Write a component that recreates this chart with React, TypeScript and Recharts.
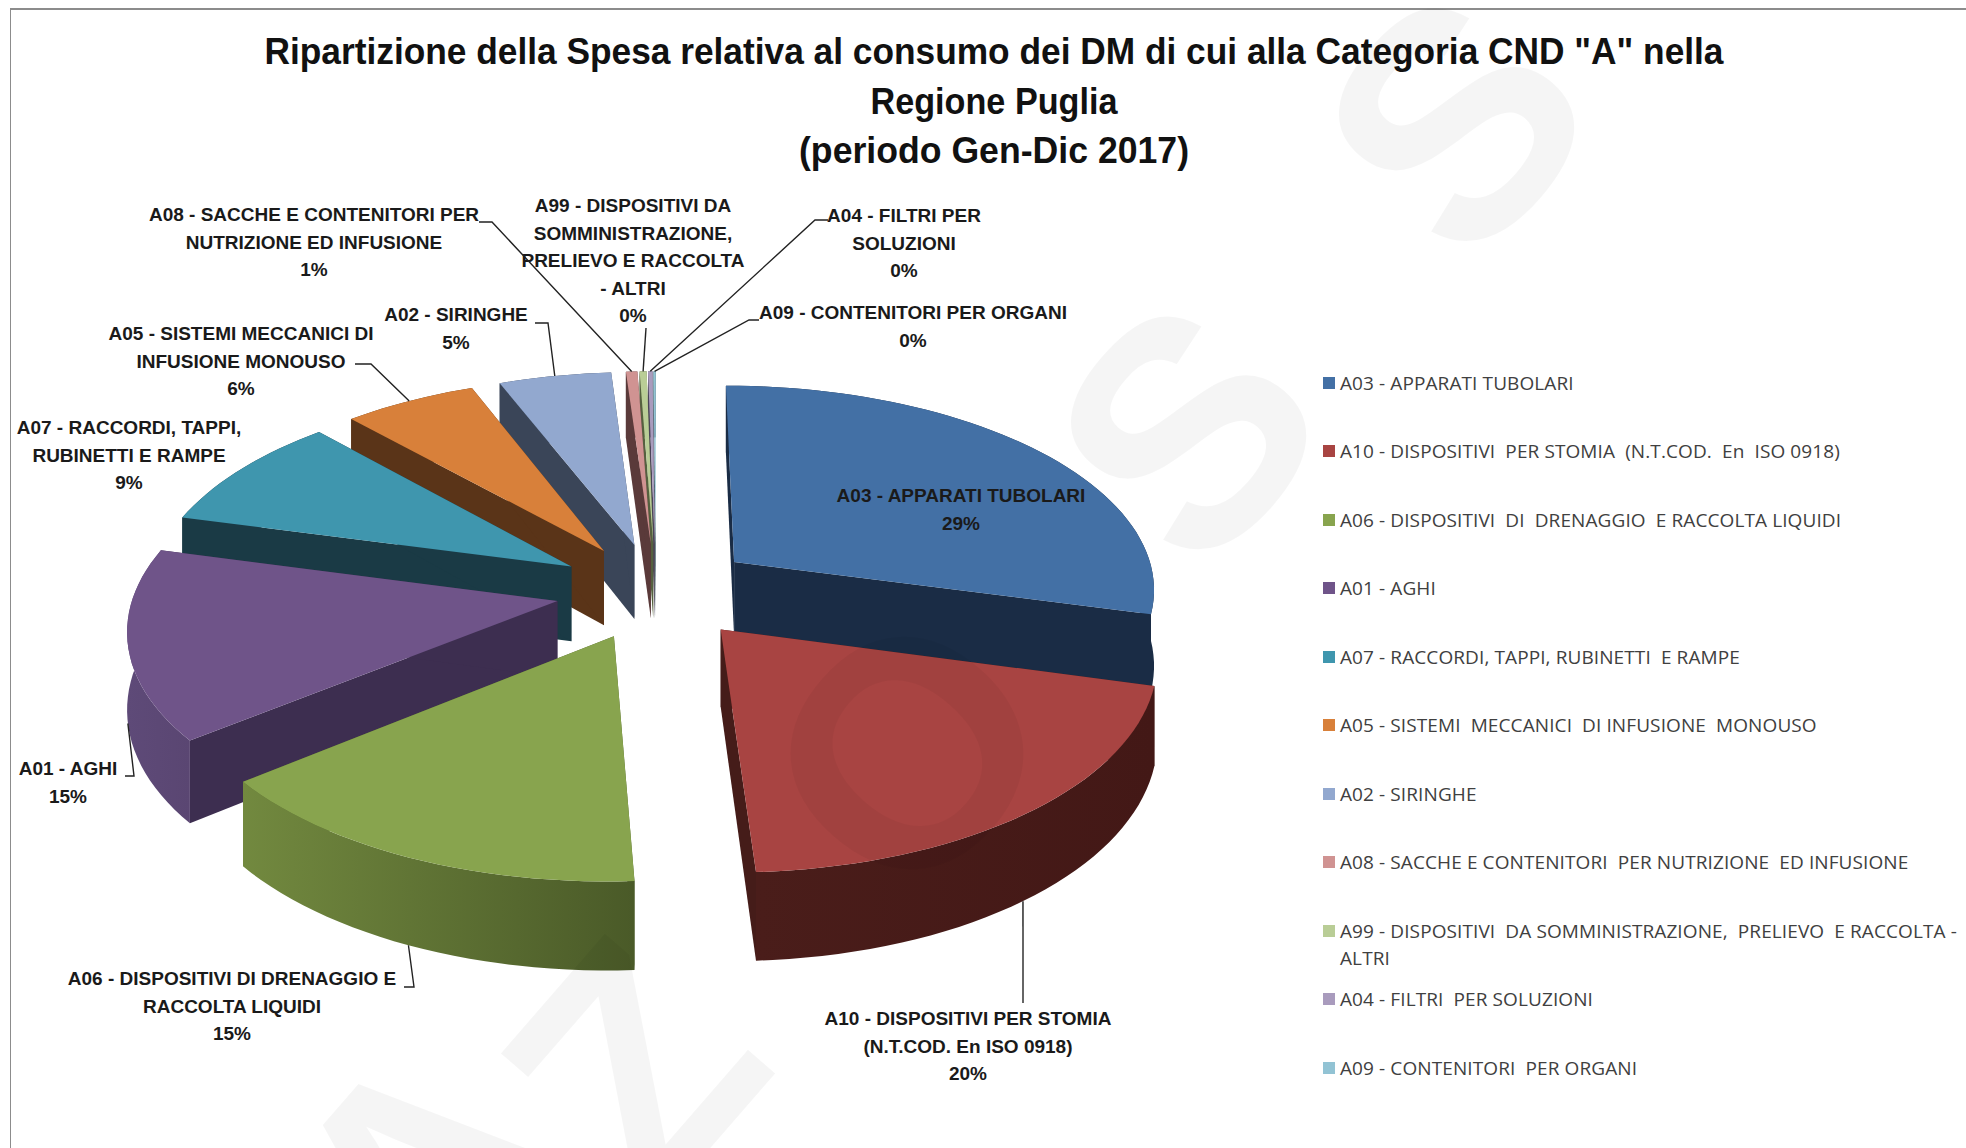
import { Legend, Pie, PieChart } from 'recharts'

// legend order, clockwise from 12 o'clock
const categories = [
  'A03 - APPARATI TUBOLARI',
  'A10 - DISPOSITIVI  PER STOMIA  (N.T.COD.  En  ISO 0918)',
  'A06 - DISPOSITIVI  DI  DRENAGGIO  E RACCOLTA LIQUIDI',
  'A01 - AGHI',
  'A07 - RACCORDI, TAPPI, RUBINETTI  E RAMPE',
  'A05 - SISTEMI  MECCANICI  DI INFUSIONE  MONOUSO',
  'A02 - SIRINGHE',
  'A08 - SACCHE E CONTENITORI  PER NUTRIZIONE  ED INFUSIONE',
  'A99 - DISPOSITIVI  DA SOMMINISTRAZIONE,  PRELIEVO  E RACCOLTA - ALTRI',
  'A04 - FILTRI  PER SOLUZIONI',
  'A09 - CONTENITORI  PER ORGANI',
]
const values = [29.1, 20, 15.1, 14.8, 9.1, 5.8, 4.9, 0.5, 0.3, 0.2, 0.1]
const percentLabels = ['29%', '20%', '15%', '15%', '9%', '6%', '5%', '1%', '0%', '0%', '0%']
const labelLines = [
  ['A03 - APPARATI TUBOLARI'],
  ['A10 - DISPOSITIVI PER STOMIA', '(N.T.COD. En ISO 0918)'],
  ['A06 - DISPOSITIVI DI DRENAGGIO E', 'RACCOLTA LIQUIDI'],
  ['A01 - AGHI'],
  ['A07 - RACCORDI, TAPPI,', 'RUBINETTI E RAMPE'],
  ['A05 - SISTEMI MECCANICI DI', 'INFUSIONE MONOUSO'],
  ['A02 - SIRINGHE'],
  ['A08 - SACCHE E CONTENITORI PER', 'NUTRIZIONE ED INFUSIONE'],
  ['A99 - DISPOSITIVI DA', 'SOMMINISTRAZIONE,', 'PRELIEVO E RACCOLTA', '- ALTRI'],
  ['A04 - FILTRI PER', 'SOLUZIONI'],
  ['A09 - CONTENITORI PER ORGANI'],
]
const topColors = ['#4370a5', '#a84442', '#88a44e', '#6f5489', '#3f96ae', '#d8803a', '#92a8cf', '#d09392', '#b9cd96', '#a99bbd', '#92c3d4']
const wallColors = ['#1a2c45', '#451c19', '#4d5e2b', '#3d2e50', '#1a3a45', '#5a3418', '#3a4558', '#5a3a3a', '#55603f', '#4a4458', '#3f5a63']
const rimLight = ['#1a2c45', '#4a1d1a', '#72893f', '#5e4a78', '#1a3a45', '#5a3418', '#3a4558', '#5a3a3a', '#55603f', '#4a4458', '#3f5a63']
const rimDark = ['#1a2c45', '#431816', '#4a5a28', '#5a4672', '#1a3a45', '#5a3418', '#3a4558', '#5a3a3a', '#55603f', '#4a4458', '#3f5a63']

// label layout: centre x, y of first line, leader elbows (the end on the slice is computed), shift of that end in degrees
const labelLayout: { x: number; y: number; leader?: [number, number][]; shift?: number }[] = [
  { x: 961, y: 496 },
  { x: 968, y: 1019, leader: [[1023, 1003]], shift: 1 },
  { x: 232, y: 979, leader: [[404, 987], [414, 987]] },
  { x: 68, y: 769, leader: [[125, 776], [134, 776]] },
  { x: 129, y: 428 },
  { x: 241, y: 334, leader: [[355, 364], [371, 364]] },
  { x: 456, y: 315, leader: [[535, 323], [548, 323]] },
  { x: 314, y: 215, leader: [[479, 222], [492, 222]] },
  { x: 633, y: 206, leader: [[646, 328]] },
  { x: 904, y: 216, leader: [[828, 220], [815, 220]] },
  { x: 913, y: 313, leader: [[759, 320], [749, 320]] },
]

const titleLines = ['Ripartizione della Spesa relativa al consumo dei DM di cui alla Categoria CND "A" nella', 'Regione Puglia', '(periodo Gen-Dic 2017)']
const titleWidths = [1459, 247, 390]

const W = 1966
const H = 1148
const narrow = '"Liberation Sans", sans-serif'

// 3D projection of the pie plane
const CX = 656
const CY = 591
const RX = 423
const RY = 204
const DEPTH = 76
const PERSP = 0.12
const EXPLODE = 0.237

const project = (u: number, v: number) => {
  const w = 1 / (1 - PERSP * v)
  return { x: CX + RX * u * w, y: CY + RY * v * w, d: DEPTH * w }
}

const RAD = Math.PI / 180
// th = degrees clockwise from 12 o'clock
const slicePoint = (mid: number, th: number, r: number) =>
  project(EXPLODE * Math.sin(mid * RAD) + r * Math.sin(th * RAD), -EXPLODE * Math.cos(mid * RAD) - r * Math.cos(th * RAD))

const toPath = (pts: { x: number; y: number }[]) => pts.map((p, i) => `${i ? 'L' : 'M'}${p.x.toFixed(1)} ${p.y.toFixed(1)}`).join(' ') + ' Z'
const drop = (p: { x: number; y: number; d: number }) => ({ x: p.x, y: p.y + p.d })

const clockwise = (a: number) => 90 - a

function Slice3D(props: any) {
  const { startAngle, endAngle, idx } = props
  const th0 = clockwise(endAngle)
  const th1 = clockwise(startAngle)
  const mid = (th0 + th1) / 2
  const n = Math.max(2, Math.ceil((th1 - th0) / 2))
  const arc = Array.from({ length: n + 1 }, (_, i) => slicePoint(mid, th0 + ((th1 - th0) * i) / n, 1))
  const tip = slicePoint(mid, mid, 0)
  const rim = [...arc, ...arc.map(drop).reverse()]
  const gid = `rim-${idx}`
  const wallA = [tip, arc[0], drop(arc[0]), drop(tip)]
  const wallB = [tip, arc[n], drop(arc[n]), drop(tip)]
  const xs = arc.map((p) => p.x)
  return (
    <g>
      <defs>
        <linearGradient id={gid} gradientUnits="userSpaceOnUse" x1={Math.min(...xs)} x2={Math.max(...xs)} y1={0} y2={0}>
          <stop offset="0%" stopColor={rimLight[idx]} />
          <stop offset="100%" stopColor={rimDark[idx]} />
        </linearGradient>
      </defs>
      <path d={toPath(wallA)} fill={wallColors[idx]} />
      <path d={toPath(wallB)} fill={wallColors[idx]} />
      <path d={toPath(rim)} fill={`url(#${gid})`} />
      <path d={toPath([tip, ...arc])} fill={topColors[idx]} />
    </g>
  )
}

function SliceLabel(props: any) {
  const { payload, midAngle } = props
  const idx = payload?.idx ?? props.idx
  const layout = labelLayout[idx]
  const lines = [...labelLines[idx], percentLabels[idx]]
  const th = clockwise(midAngle)
  const edge = slicePoint(th, th + (layout.shift ?? 0), 1)
  const isFront = Math.cos(th * RAD) < 0
  const end = isFront ? drop(edge) : edge
  return (
    <g>
      {layout.leader && (
        <polyline
          points={[...layout.leader, [end.x, end.y]].map((p) => p.join(',')).join(' ')}
          fill="none"
          stroke="#222"
          strokeWidth={1.4}
        />
      )}
      {lines.map((t, i) => (
        <text key={i} x={layout.x} y={layout.y + i * 27.5} dy={6} textAnchor="middle" fontFamily={narrow} fontWeight={700} fontSize={19} fill="#1a1a1a">
          {t}
        </text>
      ))}
    </g>
  )
}

function LegendList() {
  return (
    <div style={{ position: 'relative', width: 640, height: 760 }}>
      {categories.map((c, i) => (
        <div key={c} style={{ position: 'absolute', left: 0, top: i * 68.45, width: 640, display: 'flex', alignItems: 'flex-start' }}>
          <span style={{ width: 12, height: 12, background: topColors[i], marginTop: 7, marginRight: 5, flex: 'none' }} />
          <span style={{ font: '19px/27px "Open Sans", sans-serif', letterSpacing: 0.1, color: '#404040', whiteSpace: 'pre-wrap', width: 628 }}>{c}</span>
        </div>
      ))}
    </div>
  )
}

// A03 first, then the rest back to front: the painter's order of the slices
const drawOrder = [0, ...categories.map((_, i) => i).slice(1).reverse()]
const chartData = drawOrder.map((idx) => ({ name: categories[idx], value: values[idx], idx }))
const total = values.reduce((a, b) => a + b, 0)
const startDeg = 90 - (values[0] / total) * 360

const watermarkStyle = {
  fontFamily: '"Liberation Sans", sans-serif',
  fontWeight: 700,
  fontSize: 320,
  fill: '#000',
  fillOpacity: 0.04,
}

export default function App() {
  return (
    <div style={{ position: 'absolute', left: 0, top: 0, width: W, height: H, background: '#fff', overflow: 'hidden' }}>
      <div style={{ position: 'absolute', left: 10, top: 8, right: 0, bottom: 0, borderTop: '2px solid #8c8c8c', borderLeft: '1px solid #8c8c8c' }} />
      <PieChart width={W} height={H} style={{ position: 'absolute', left: 0, top: 0 }}>
        <Pie
          data={chartData}
          dataKey="value"
          nameKey="name"
          cx={CX}
          cy={CY}
          outerRadius={RX}
          startAngle={startDeg}
          endAngle={startDeg + 360}
          stroke="none"
          shape={Slice3D}
          label={SliceLabel}
          labelLine={false}
          isAnimationActive={false}
        />
        <Legend content={LegendList} layout="vertical" align="right" verticalAlign="top" wrapperStyle={{ left: 1323, top: 370, width: 640 }} />
      </PieChart>
      <svg width={W} height={H} style={{ position: 'absolute', left: 0, top: 0, pointerEvents: 'none' }}>
        {titleLines.map((t, i) => (
          <text
            key={t}
            x={994}
            y={64 + i * 49.5}
            textAnchor="middle"
            textLength={titleWidths[i]}
            lengthAdjust="spacingAndGlyphs"
            fontFamily={narrow}
            fontWeight={700}
            fontSize={37}
            fill="#111"
          >
            {t}
          </text>
        ))}
        <text transform="translate(431 1336) rotate(-49)" style={watermarkStyle}>
          A
        </text>
        <text transform="translate(653 1214) rotate(-49)" style={watermarkStyle} letterSpacing={195}>
          ZOSS
        </text>
      </svg>
    </div>
  )
}
